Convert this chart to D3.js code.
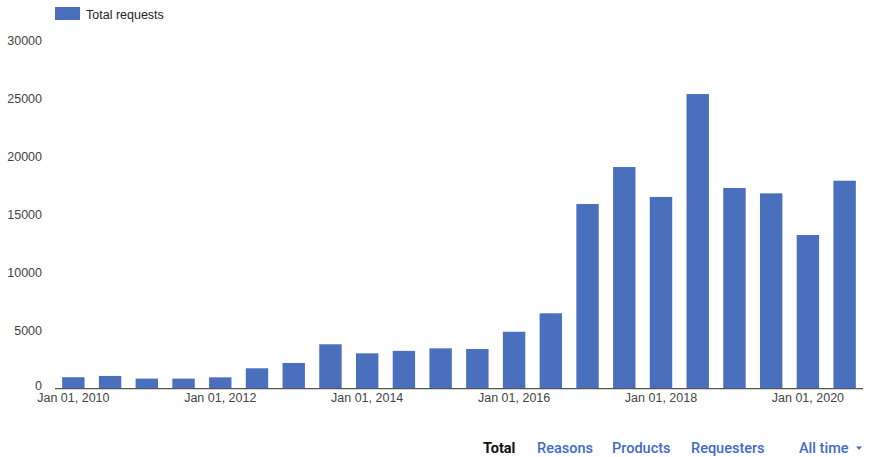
<!DOCTYPE html>
<html>
<head>
<meta charset="utf-8">
<script src="https://cdn.jsdelivr.net/npm/d3@7"></script>
<style>
  html, body { margin: 0; padding: 0; background: #fff; }
  svg { display: block; }
</style>
</head>
<body>
<svg id="chart" width="870" height="457"></svg>
<script>
// Half-year periods, Jan 2010 through Jul 2020
const periods = [
  "2010-01", "2010-07", "2011-01", "2011-07", "2012-01", "2012-07",
  "2013-01", "2013-07", "2014-01", "2014-07", "2015-01", "2015-07",
  "2016-01", "2016-07", "2017-01", "2017-07", "2018-01", "2018-07",
  "2019-01", "2019-07", "2020-01", "2020-07"
];
const totalRequests = [
  990, 1100, 870, 870, 980, 1760,
  2220, 3830, 3050, 3260, 3480, 3420,
  4910, 6500, 15920, 19110, 16530, 25400,
  17300, 16840, 13250, 17930
];
const yTicks = [0, 5000, 10000, 15000, 20000, 25000, 30000];
const xTickLabels = {
  "2010-01": "Jan 01, 2010", "2012-01": "Jan 01, 2012", "2014-01": "Jan 01, 2014",
  "2016-01": "Jan 01, 2016", "2018-01": "Jan 01, 2018", "2020-01": "Jan 01, 2020"
};
const seriesName = "Total requests";
const navItems = ["Total", "Reasons", "Products", "Requesters"];
const rangeLabel = "All time";

const svg = d3.select("#chart");
const barColor = "#4a70bd";
const textColor = "#444";
const font = "'Liberation Sans', Arial, sans-serif";

const x = d3.scaleBand()
  .domain(periods)
  .range([55, 863])
  .paddingInner(0.39)
  .paddingOuter(0.195);

const y = d3.scaleLinear()
  .domain([0, 30000])
  .range([388.7, 40.7]);

// Bars
svg.append("g")
  .selectAll("rect")
  .data(periods.map((p, i) => ({ p, v: totalRequests[i] })))
  .join("rect")
  .attr("x", d => x(d.p))
  .attr("y", d => y(d.v))
  .attr("width", x.bandwidth())
  .attr("height", d => y(0) - y(d.v))
  .attr("fill", barColor);

// Y axis labels (no grid lines)
const yAxis = d3.axisLeft(y).tickValues(yTicks).tickSize(0).tickPadding(0).tickFormat(d3.format("d"));
const gy = svg.append("g").attr("transform", "translate(42,0)").call(yAxis);
gy.select(".domain").remove();
gy.selectAll("text")
  .attr("fill", textColor)
  .style("font-family", font)
  .style("font-size", "12.5px");
// the zero label sits just above the baseline, clear of the first date label
gy.selectAll(".tick").filter(d => d === 0).select("text").attr("dy", "0.1em");

// X axis baseline with labels
const xAxis = d3.axisBottom(x)
  .tickValues(Object.keys(xTickLabels))
  .tickFormat(d => xTickLabels[d])
  .tickSize(0)
  .tickPadding(4);
const gx = svg.append("g").attr("transform", `translate(0,${y(0)})`).call(xAxis);
gx.select(".domain").attr("stroke", "#555").attr("stroke-width", 1.2).attr("d", "M55,0H863");
gx.selectAll("text")
  .attr("fill", textColor)
  .style("font-family", font)
  .style("font-size", "12.5px");

// Legend
const legend = svg.append("g");
legend.append("rect")
  .attr("x", 55).attr("y", 7).attr("width", 25).attr("height", 13)
  .attr("fill", barColor);
legend.append("text")
  .attr("x", 86).attr("y", 18.5)
  .attr("fill", "#222")
  .style("font-family", font)
  .style("font-size", "12.5px")
  .text(seriesName);

// Bottom navigation
const nav = svg.append("g")
  .style("font-family", "Roboto, 'Open Sans', sans-serif")
  .style("font-size", "14.5px")
  .style("font-weight", 500);
const navX = [483, 537, 612, 691];
navItems.forEach((t, i) => {
  nav.append("text")
    .attr("x", navX[i]).attr("y", 453)
    .attr("fill", i === 0 ? "#111" : "#3f6bc9")
    .style("font-weight", i === 0 ? 700 : 500)
    .text(t);
});
nav.append("text")
  .attr("x", 799).attr("y", 453)
  .attr("fill", "#3f6bc9")
  .text(rangeLabel);
nav.append("path")
  .attr("d", "M856,446.5 L862,446.5 L859,450 Z")
  .attr("fill", "#3f6bc9");
</script>
</body>
</html>
